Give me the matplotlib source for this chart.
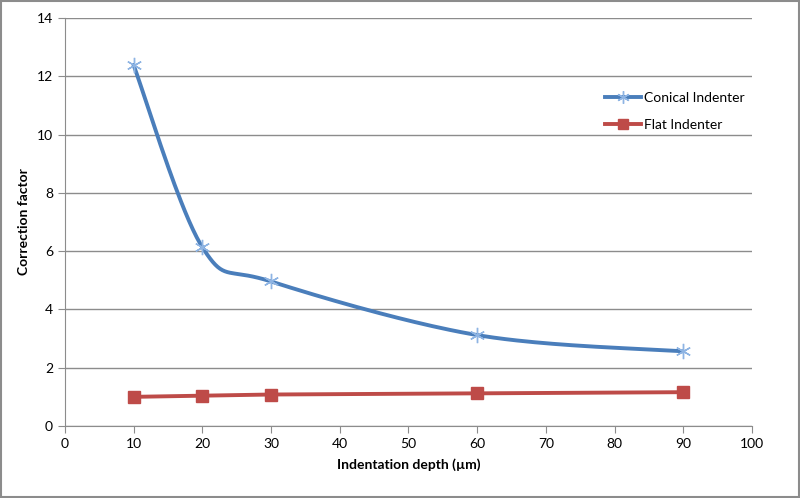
import numpy as np
import matplotlib
matplotlib.use("Agg")
import matplotlib.pyplot as plt

plt.rcParams['font.family'] = ['Lato', 'DejaVu Sans']

depth = [10, 20, 30, 60, 90]
conical = [12.39, 6.14, 4.96, 3.12, 2.56]
flat = [1.0, 1.04, 1.08, 1.12, 1.16]


def excel_smooth(x, y, n=40):
    # bezier smoothing like Excel's "smoothed line"
    x = np.asarray(x, float)
    y = np.asarray(y, float)
    px, py = [], []
    for i in range(len(x) - 1):
        i0 = max(i - 1, 0)
        i3 = min(i + 2, len(x) - 1)
        c1x = x[i] + (x[i + 1] - x[i0]) / 6
        c1y = y[i] + (y[i + 1] - y[i0]) / 6
        c2x = x[i + 1] - (x[i3] - x[i]) / 6
        c2y = y[i + 1] - (y[i3] - y[i]) / 6
        t = np.linspace(0, 1, n)
        bx = (1-t)**3*x[i] + 3*(1-t)**2*t*c1x + 3*(1-t)*t**2*c2x + t**3*x[i+1]
        by = (1-t)**3*y[i] + 3*(1-t)**2*t*c1y + 3*(1-t)*t**2*c2y + t**3*y[i+1]
        px.extend(bx)
        py.extend(by)
    return px, py


fig = plt.figure(figsize=(8, 4.98), dpi=100)
ax = fig.add_axes([0.081, 0.1446, 0.859, 0.8193])

blue = '#4a7ebb'
red = '#be4b48'

sx, sy = excel_smooth(depth, conical)
ax.plot(sx, sy, color=blue, lw=2.8, solid_capstyle='round', zorder=3)
ax.plot(depth, conical, ls='none', marker=(6, 2, 0), ms=11, mew=1,
        mec='#8eb4e3', zorder=4)
ax.plot(depth, flat, color=red, lw=2.8, marker='s', ms=9, mfc=red, mec=red, zorder=3)

# legend handles
ax.plot([], [], color=blue, lw=2.8, marker=(6, 2, 0), ms=9, mec='#8eb4e3', label='Conical Indenter')
ax.plot([], [], color=red, lw=2.8, marker='s', ms=7, label='Flat Indenter')
h, l = ax.get_legend_handles_labels()
ax.legend(h[-2:], l[-2:], loc='upper left', bbox_to_anchor=(0.768, 0.85), frameon=False,
          fontsize=10, handlelength=2.6, labelspacing=1.1, handletextpad=0.2)

ax.set_xlim(0, 100)
ax.set_ylim(0, 14)
ax.set_xticks(range(0, 101, 10))
ax.set_yticks(range(0, 15, 2))
ax.yaxis.grid(True, color='#8c8c8c', lw=1)
ax.set_axisbelow(True)
for s in ['top', 'right']:
    ax.spines[s].set_visible(False)
for s in ['left', 'bottom']:
    ax.spines[s].set_color('#8c8c8c')
ax.tick_params(colors='#8c8c8c', labelcolor='black', labelsize=10, length=5, direction='out')
ax.set_xlabel('Indentation depth (µm)', fontweight='bold', fontsize=10, labelpad=6)
ax.set_ylabel('Correction factor', fontweight='bold', fontsize=10, labelpad=5)

# chart border
fig.patches.append(plt.Rectangle((0.001, 0.002), 0.998, 0.996, transform=fig.transFigure,
                                 fill=False, ec='#8c8c8c', lw=1.5))

fig.savefig('out.png', dpi=100)
